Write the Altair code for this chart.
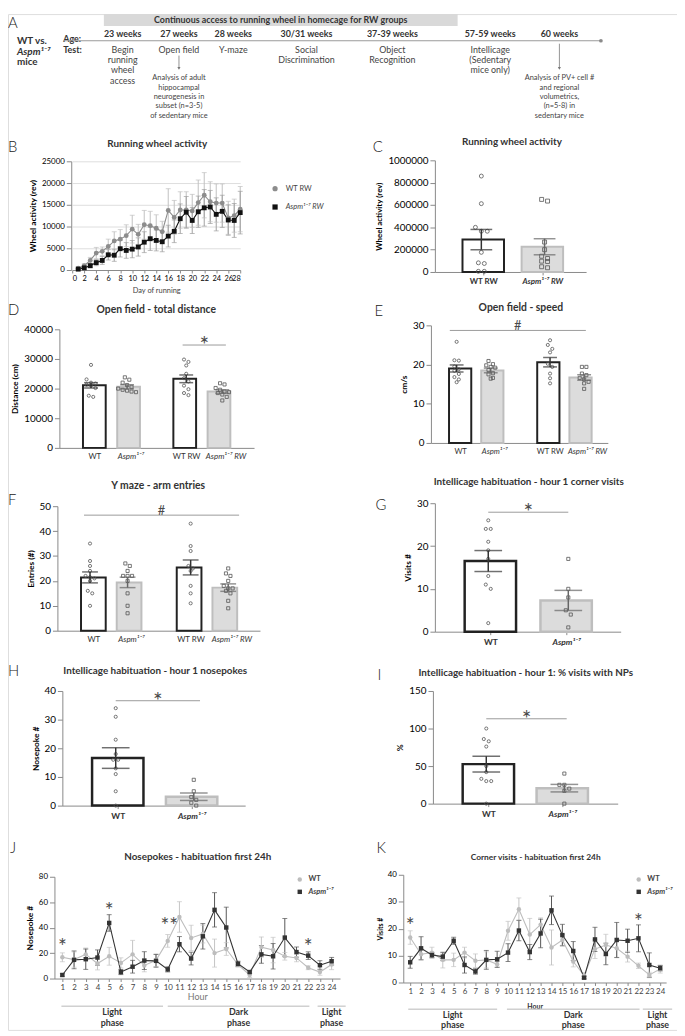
import altair as alt
import pandas as pd

FONT = "Lato"
OFF = 8            # page margin
W, H = 677, 1028   # drawing area


def px(v):
    return v - OFF

# ============================ DATA ============================
# Panel A (timeline)
A_WEEKS = [23, 27, 28, 30.5, 38, 58, 60]
A_AGES = ["23 weeks", "27 weeks", "28 weeks", "30/31 weeks", "37-39 weeks", "57-59 weeks", "60 weeks"]
A_TESTS = ["Begin\nrunning\nwheel\naccess", "Open field", "Y-maze", "Social\nDiscrimination",
           "Object\nRecognition", "Intellicage\n(Sedentary\nmice only)", ""]
A_NOTE_WEEKS = [27, 60]
A_NOTES = ["Analysis of adult\nhippocampal\nneurogenesis in\nsubset (n=3-5)\nof sedentary mice",
           "Analysis of PV+ cell #\nand regional\nvolumetrics,\n(n=5-8) in\nsedentary mice"]

GRP_RW = ["WT RW", "Aspm¹⁻⁷ RW"]
GRP = ["WT", "Aspm¹⁻⁷"]
CATS4 = ["WT", "Aspm¹⁻⁷", "WT RW", "Aspm¹⁻⁷ RW"]
KINDS4 = ["wt", "ko", "wt", "ko"]
KINDS2 = ["wt", "ko"]

# Panel B (running wheel per day)
B_DAYS = list(range(1, 29))
B_WT_MEAN = [400, 1000, 2200, 3900, 4300, 5400, 6700, 7100, 7900, 9400, 8200, 10400, 10200, 9600,
             8800, 13700, 12100, 13800, 13800, 13600, 15500, 17200, 15700, 15400, 15400, 12000, 12500, 14000]
B_WT_SEM = [300, 400, 700, 1300, 1000, 1700, 2100, 2200, 2500, 3200, 2300, 3300, 3300, 3100,
            2400, 5000, 3900, 4200, 4200, 3800, 5200, 5200, 4600, 4400, 4400, 3800, 3800, 5200]
B_KO_MEAN = [200, 500, 1000, 1700, 2200, 3500, 3400, 4900, 4500, 4800, 5300, 6400, 7200, 6800,
             6500, 7800, 8900, 11800, 13300, 11400, 13400, 14300, 14500, 12800, 13500, 11500, 11400, 13200]
B_KO_SEM = [100, 300, 500, 700, 900, 1200, 1400, 1900, 1800, 2000, 2100, 2400, 2700, 2400,
            2300, 2500, 2600, 3400, 3600, 3000, 3600, 4200, 3800, 3800, 3700, 3500, 3900, 4900]

# Panel C (total wheel activity)
C_CATS = ["WT RW", "Aspm¹⁻⁷ RW"]
C_MEAN = [290000, 226000]
C_SEM = [91000, 72000]
C_PTS = [[859000, 612000, 400000, 365000, 365000, 176000, 82000, 76000, 6000, 6000],
         [650000, 635000, 268000, 200000, 141000, 121000, 97000, 94000, 47000, 38000]]

# Panel D (open field distance)
D_MEAN = [21100, 20600, 23300, 19000]
D_SEM = [900, 700, 1300, 600]
D_PTS = [[28000, 23100, 22000, 21700, 21300, 21000, 20200, 17600, 17200],
         [23800, 23000, 22000, 21200, 20600, 20000, 19600, 19300, 19000, 18800],
         [29800, 29000, 27800, 25000, 23500, 22400, 21000, 19800, 18500, 17800],
         [21800, 21400, 20200, 19600, 19000, 18800, 18500, 18000, 17200, 16000]]
D_SIG = [("*", "WT RW", "Aspm¹⁻⁷ RW", 34700)]

# Panel E (open field speed)
E_MEAN = [19.0, 18.5, 20.6, 16.7]
E_SEM = [0.9, 0.6, 1.2, 0.7]
E_PTS = [[25.8, 21.1, 21.0, 19.5, 18.8, 18.4, 17.6, 16.8, 16.2, 15.5],
         [20.9, 20.1, 19.8, 19.4, 19.2, 18.6, 17.8, 17.5, 16.6, 16.4],
         [26.2, 25.0, 24.0, 23.1, 20.2, 19.4, 17.7, 16.5, 15.2],
         [19.4, 19.4, 17.7, 17.3, 16.6, 16.2, 15.6, 15.2, 13.8]]
E_SIG = [("#", "WT", "Aspm¹⁻⁷ RW", 28.7)]

# Panel F (Y maze entries)
F_MEAN = [21.4, 19.4, 25.4, 17.3]
F_SEM = [2.2, 2.1, 3.0, 1.5]
F_PTS = [[35, 28, 26, 24, 22, 21.5, 21, 20, 16, 15, 10],
         [27, 26, 24, 22, 22, 22, 20, 15, 10, 7],
         [43, 34, 32, 26, 25, 24, 18, 15, 11],
         [25, 23, 22, 20, 18, 17, 17, 16, 15, 12, 9]]
F_SIG = [("#", "WT", "Aspm¹⁻⁷ RW", 46.4)]

# Panel G (corner visits hour 1)
G_MEAN = [16.5, 7.3]
G_SEM = [2.45, 2.35]
G_PTS = [[26, 24, 24, 21, 19, 17, 13, 11, 10, 2], [17, 10, 8, 5, 4, 1]]
G_SIG = [("*", "WT", "Aspm¹⁻⁷", 27.9)]

# Panel H (nosepokes hour 1)
H_MEAN = [16.6, 3.1]
H_SEM = [3.6, 1.3]
H_PTS = [[34, 31, 23, 18, 16, 16, 13, 11, 5, 0], [9, 5, 3, 2, 1, 0]]
H_SIG = [("*", "WT", "Aspm¹⁻⁷", 36.6)]

# Panel I (% visits with NPs)
I_MEAN = [52.6, 20.6]
I_SEM = [10.5, 5.0]
I_PTS = [[100, 86, 83, 76, 50, 42, 33, 30, 30, 0], [40, 25, 25, 20, 17, 0]]
I_SIG = [("*", "WT", "Aspm¹⁻⁷", 113)]

# Panels J / K (24 h habituation)
HOURS = list(range(1, 25))
J_WT_MEAN = [16.7, 14.9, 19.0, 11.8, 17.5, 12.3, 19.0, 10.3, 14.4, 29.6, 48.4, 31.9, 35.0, 20.0,
             23.2, 11.0, 2.8, 24.7, 22.4, 17.5, 16.2, 8.5, 5.1, 11.0]
J_WT_SEM = [3.5, 6, 5, 5, 7, 4, 11, 5, 5, 5, 12, 10, 7, 11, 5, 2, 2, 8, 10, 3, 3, 1.5, 2.5, 4]
J_KO_MEAN = [2.8, 14.7, 15.2, 16.5, 43.7, 5.1, 9.3, 14.1, 13.9, 7.2, 27.0, 15.7, 33.2, 54.0,
             40.1, 11.6, 5.1, 19.0, 17.5, 32.2, 20.8, 18.0, 10.5, 13.6]
J_KO_SEM = [1, 7, 8, 6, 6.5, 2, 5, 7, 5, 2, 6, 5, 10, 13.5, 16, 2, 1, 7, 10, 15, 4, 3, 3.5, 3]
J_STAR_HOURS = [1, 5, 9.75, 10.5, 22]
J_STAR_Y = [28.7, 56.7, 45, 45, 28.7]

K_WT_MEAN = [16.7, 10.5, 11.1, 8.4, 8.4, 11.1, 8.1, 8.4, 6.8, 19.2, 27.2, 17.8, 21.5, 13.0,
             15.8, 7.8, 2.6, 12.4, 13.9, 12.7, 9.6, 6.2, 2.8, 5.0]
K_WT_SEM = [2.5, 2, 2, 3, 2.5, 2, 2.5, 3, 1, 3.5, 4.2, 6, 2.5, 6.5, 2, 2, 1, 3.5, 4, 3.5, 2, 1, 1, 1.5]
K_KO_MEAN = [7.5, 12.7, 10.2, 9.6, 15.5, 6.5, 4.1, 8.4, 8.6, 11.1, 19.3, 11.3, 18.2, 26.8,
             17.6, 11.7, 1.8, 16.0, 10.6, 15.8, 15.5, 16.4, 6.5, 5.3]
K_KO_SEM = [2.2, 4.3, 1, 1.5, 1.3, 3, 1, 3.5, 3, 3.3, 3.8, 2.8, 5.3, 5.3, 4, 3.5, 0.5, 4.5, 4,
            6.5, 4.3, 5, 4.5, 1]
K_STAR_HOURS = [1, 22]
K_STAR_Y = [22.8, 24.2]

PHASE_NAMES = ["Light\nphase", "Dark\nphase", "Light\nphase"]

# ============================ LAYOUT ============================
A_COL_PX = [124, 181, 236, 310, 397, 496, 566]
SH = 3
LAB_SHIFT4 = [0, 2, 1.5, 7]   # px shift of the category labels under 4-bar panels
STAR_FS_BAR = 23
STAR_FS_HOUR = 21

layers = []


def txt(s, x, y, size=9.0, weight="normal", style="normal", align="center", baseline="middle",
        color="#333333", lh=None):
    kw = dict(align=align, baseline=baseline, fontSize=size, fontWeight=weight, fontStyle=style, font=FONT)
    if lh is not None:
        kw["lineHeight"] = lh
    if "\n" in s:
        kw["lineBreak"] = "\n"
    return alt.Chart(alt.Data(values=[{"t": s}])).mark_text(**kw).encode(
        text="t:N", x=alt.value(px(x)), y=alt.value(px(y)), color=alt.value(color))


def blank():
    return alt.Chart(alt.Data(values=[{}]))


# ---------------- Panel A ----------------
a_x = alt.Scale(domain=A_WEEKS, range=[px(v) for v in A_COL_PX], nice=False, zero=False)
a_enc = alt.X("week:Q", scale=a_x, axis=None)
a_df = pd.DataFrame({"week": A_WEEKS, "age": A_AGES, "test": A_TESTS})
a_notes = pd.DataFrame({"week": A_NOTE_WEEKS, "note": A_NOTES})

layers.append(blank().mark_rect(color="#d9d9d9").encode(
    x=alt.value(px(105)), x2=alt.value(px(463)), y=alt.value(0), y2=alt.value(12)))
layers.append(txt("Continuous access to running wheel in homecage for RW groups", 284, 14, 9, "bold"))
layers.append(txt("A", 8, 17, 15, 300, align="left", color="#222222"))
layers.append(txt("WT vs.", 17, 32 + SH, 10, "bold", align="left"))
layers.append(txt("Aspm¹⁻⁷", 17, 43 + SH, 10, "bold", "italic", align="left"))
layers.append(txt("mice", 17, 54 + SH, 10, "bold", align="left"))
layers.append(txt("Age:", 64, 30 + SH, 9, "bold", align="left"))
layers.append(txt("Test:", 64, 41 + SH, 9, "bold", align="left"))
layers.append(blank().mark_rule(color="#9a9a9a", strokeWidth=1.2).encode(
    x=alt.value(px(64)), x2=alt.value(px(608)), y=alt.value(px(32 + SH))))
layers.append(blank().mark_point(filled=True, size=14, opacity=1).encode(
    x=alt.value(px(608)), y=alt.value(px(32 + SH)), color=alt.value("#8a8a8a")))
layers.append(alt.Chart(a_df).mark_text(font=FONT, fontSize=9, fontWeight="bold").encode(
    x=a_enc, y=alt.value(px(25 + SH)), text="age:N", color=alt.value("#333333")))
layers.append(alt.Chart(a_df).mark_text(font=FONT, fontSize=9, baseline="top",
                                        lineBreak="\n", lineHeight=10.5).encode(
    x=a_enc, y=alt.value(px(37 + SH)), text="test:N", color=alt.value("#444444")))
layers.append(alt.Chart(a_notes).mark_text(font=FONT, fontSize=7.5, baseline="top",
                                           lineBreak="\n", lineHeight=9.5).encode(
    x=a_enc, y=alt.value(px(66 + SH)), text="note:N", color=alt.value("#444444")))
for wk, y0 in [(27, 47), (60, 35)]:
    d = pd.DataFrame({"week": [wk]})
    layers.append(alt.Chart(d).mark_rule(strokeWidth=0.8).encode(
        x=a_enc, y=alt.value(px(y0 + SH)), y2=alt.value(px(60 + SH)), color=alt.value("#777777")))
    layers.append(alt.Chart(d).mark_point(shape="triangle-down", filled=True, size=10, opacity=1).encode(
        x=a_enc, y=alt.value(px(60 + SH)), color=alt.value("#777777")))

# ---------------- helpers ----------------
def legend(x, y, rowpad, weight="normal", size=7.5, symsize=24, offset=5):
    return alt.Legend(orient="none", legendX=px(x), legendY=px(y), title=None, labelFontSize=size,
                      labelColor="#444444", labelFontWeight=weight, symbolSize=symsize,
                      rowPadding=rowpad, padding=0, labelOffset=offset, symbolStrokeWidth=0,
                      labelFontStyle={"expr": "indexof(datum.label, 'Aspm') >= 0 ? 'italic' : 'normal'"})


def swarm(vals, thr, sp):
    order = sorted(range(len(vals)), key=lambda i: -vals[i])
    offs = [0.0] * len(vals)
    cluster = []

    def flush(cl):
        k = len(cl)
        for j, i in enumerate(cl):
            offs[i] = (j - (k - 1) / 2) * sp

    for i in order:
        if cluster and abs(vals[cluster[0]] - vals[i]) > thr:
            flush(cluster)
            cluster = []
        cluster.append(i)
    flush(cluster)
    return offs


def bar_panel(L, cats, kinds, means, sems, pts, sigs, ylab, yvals, xlab_weight="normal",
              xlab_size=8.5, ticksize=0, ylab_size=8.5, lab_shift=None):
    step = L["step"]
    slots = L["slots"]
    slot_of = dict(zip(cats, slots))
    dom = [(L["ax"] - L["c0"]) / step, (L["x1"] - L["c0"]) / step]
    xs = alt.Scale(domain=dom, range=[px(L["ax"]), px(L["x1"])], nice=False, zero=False)
    ys = alt.Scale(domain=[0, L["ymax"]], range=[px(L["ay"]), px(L["ytop"])], nice=False, zero=False)
    bars = pd.DataFrame({"slot": slots, "cat": cats, "kind": kinds, "mean": means,
                         "lo": [m - s for m, s in zip(means, sems)],
                         "hi": [m + s for m, s in zip(means, sems)]})
    if lab_shift is None:
        lab_pos = list(slots)
    else:
        lab_pos = [round(s + d / step, 4) for s, d in zip(slots, lab_shift)]
    lab_expr = "''"
    for s, c in reversed(list(zip(lab_pos, cats))):
        lab_expr = f"abs(datum.value - {s}) < 0.001 ? '{c}' : ({lab_expr})"
    ko_pos = [s for s, k in zip(lab_pos, kinds) if k == "ko"]
    sty_expr = "(" + " || ".join(f"abs(datum.value - {s}) < 0.001" for s in ko_pos) + ") ? 'italic' : 'normal'"
    xaxis_kw = dict(orient="bottom", offset=px(L["ay"]) - H, values=lab_pos, labelExpr=lab_expr, title=None,
                    labelFontSize=xlab_size, labelFontWeight=xlab_weight, labelOverlap=False,
                    labelFontStyle={"expr": sty_expr}, labelColor="#333333", labelPadding=3)
    if ticksize > 0:
        xaxis_kw["tickSize"] = ticksize
    else:
        xaxis_kw["ticks"] = False
        xaxis_kw["labelPadding"] = 5
    xaxis = alt.Axis(**xaxis_kw)
    yaxis = alt.Axis(orient="left", offset=-px(L["ax"]), values=yvals, format="d", title=ylab,
                     titleFontSize=ylab_size, labelOverlap=False)
    out = []
    out.append(alt.Chart(bars).mark_bar(size=L["bw"], strokeWidth=L["sw"], orient="vertical").encode(
        x=alt.X("slot:Q", scale=xs, axis=xaxis),
        y=alt.Y("mean:Q", scale=ys, axis=yaxis),
        fill=alt.Fill("kind:N", scale=alt.Scale(domain=["wt", "ko"], range=["#ffffff", "#dcdcdc"]), legend=None),
        stroke=alt.Stroke("kind:N", scale=alt.Scale(domain=["wt", "ko"], range=["#222222", "#bebebe"]),
                          legend=None)))
    prow = []
    for slot, kind, vals in zip(slots, kinds, pts):
        offs = swarm(vals, L["ymax"] * 0.035, L["jit"] / step)
        for v, o in zip(vals, offs):
            prow.append({"x": slot + o, "val": v, "kind": kind})
    pdf = pd.DataFrame(prow)
    out.append(alt.Chart(pdf).mark_point(filled=False, size=L["ps"], strokeWidth=0.8, opacity=1).encode(
        x=alt.X("x:Q", scale=xs, axis=None), y=alt.Y("val:Q", scale=ys, axis=None),
        color=alt.value("#555555"),
        shape=alt.Shape("kind:N", scale=alt.Scale(domain=["wt", "ko"], range=["circle", "square"]), legend=None)))
    ecol = alt.Color("kind:N", scale=alt.Scale(domain=["wt", "ko"], range=["#333333", "#666666"]), legend=None)
    out.append(alt.Chart(bars).mark_rule(strokeWidth=1.5).encode(
        x=alt.X("slot:Q", scale=xs, axis=None), y=alt.Y("lo:Q", scale=ys, axis=None), y2="hi:Q", color=ecol))
    for f in ["lo", "hi"]:
        out.append(alt.Chart(bars).mark_tick(orient="horizontal", size=L["cap"], thickness=1.5).encode(
            x=alt.X("slot:Q", scale=xs, axis=None), y=alt.Y(f + ":Q", scale=ys, axis=None), color=ecol))
    for sym, ca, cb, yv in sigs:
        a = slot_of[ca] - L.get("sig_ext_l", 0)
        b = slot_of[cb] + L.get("sig_ext_r", 0)
        sd = pd.DataFrame({"a": [a], "b": [b], "m": [(a + b) / 2], "y": [yv], "t": [sym]})
        out.append(alt.Chart(sd).mark_rule(strokeWidth=1).encode(
            x=alt.X("a:Q", scale=xs, axis=None), x2="b:Q", y=alt.Y("y:Q", scale=ys, axis=None),
            color=alt.value("#9a9a9a")))
        fs = STAR_FS_BAR if sym == "*" else 13
        dy = 0.57 * fs - 5 if sym == "*" else 0.35 * fs - 5
        out.append(alt.Chart(sd).mark_text(font=FONT, fontSize=fs, baseline="alphabetic", dy=dy).encode(
            x=alt.X("m:Q", scale=xs, axis=None), y=alt.Y("y:Q", scale=ys, axis=None), text="t:N",
            color=alt.value("#4a4a4a")))
    return out


def hour_panel(L, wt_m, wt_s, ko_m, ko_s, star_h, star_y, ylab, yvals, ylab_size, leg, xtitle_kw,
               phase_rng, phase_line_y, phase_text_y, phase_lh):
    step = (L["h24"] - L["h1"]) / 23
    dom = [1 + (L["ax"] - L["h1"]) / step, 1 + (L["x1"] - L["h1"]) / step]
    xs = alt.Scale(domain=dom, range=[px(L["ax"]), px(L["x1"])], nice=False, zero=False)
    ys = alt.Scale(domain=[0, L["ymax"]], range=[px(L["ay"]), px(L["ytop"])], nice=False, zero=False)
    rows = []
    for g, ms, ss in [(GRP[0], wt_m, wt_s), (GRP[1], ko_m, ko_s)]:
        for h, m, s in zip(HOURS, ms, ss):
            rows.append({"hour": h, "group": g, "mean": m, "lo": m - s, "hi": m + s})
    df = pd.DataFrame(rows)
    xaxis = alt.Axis(orient="bottom", offset=px(L["ay"]) - H, values=HOURS, labelFontSize=8,
                     labelColor="#444444", tickSize=3, labelOverlap=False, **xtitle_kw)
    yaxis = alt.Axis(orient="left", offset=-px(L["ax"]), values=yvals, format="d", title=ylab,
                     titleFontSize=ylab_size, labelFontSize=8, labelOverlap=False)
    ecol = alt.Color("group:N", scale=alt.Scale(domain=GRP, range=["#c4c4c4", "#555555"]), legend=None)
    out = []
    out.append(alt.Chart(df).mark_rule(strokeWidth=1).encode(
        x=alt.X("hour:Q", scale=xs, axis=xaxis), y=alt.Y("lo:Q", scale=ys, axis=yaxis), y2="hi:Q", color=ecol))
    for f in ["lo", "hi"]:
        out.append(alt.Chart(df).mark_tick(orient="horizontal", size=5, thickness=1).encode(
            x=alt.X("hour:Q", scale=xs, axis=None), y=alt.Y(f + ":Q", scale=ys, axis=None), color=ecol))
    lcol = alt.Color("group:N", scale=alt.Scale(domain=GRP, range=["#bdbdbd", "#333333"]), legend=None)
    out.append(alt.Chart(df).mark_line(strokeWidth=1.1).encode(
        x=alt.X("hour:Q", scale=xs, axis=None), y=alt.Y("mean:Q", scale=ys, axis=None), color=lcol))
    out.append(alt.Chart(df).mark_point(filled=True, size=20, opacity=1).encode(
        x=alt.X("hour:Q", scale=xs, axis=None), y=alt.Y("mean:Q", scale=ys, axis=None),
        color=alt.Color("group:N", scale=alt.Scale(domain=GRP, range=["#bdbdbd", "#333333"]), legend=leg),
        shape=alt.Shape("group:N", scale=alt.Scale(domain=GRP, range=["circle", "square"]), legend=leg)))
    sd = pd.DataFrame({"h": star_h, "y": star_y, "t": ["*"] * len(star_h)})
    out.append(alt.Chart(sd).mark_text(font=FONT, fontSize=STAR_FS_HOUR, baseline="alphabetic",
                                       dy=0.57 * STAR_FS_HOUR).encode(
        x=alt.X("h:Q", scale=xs, axis=None), y=alt.Y("y:Q", scale=ys, axis=None), text="t:N",
        color=alt.value("#4a4a4a")))
    ph = pd.DataFrame({"a": [r[0] for r in phase_rng], "b": [r[1] for r in phase_rng],
                       "m": [(r[0] + r[1]) / 2 for r in phase_rng], "t": PHASE_NAMES})
    out.append(alt.Chart(ph).mark_rule(strokeWidth=1.5).encode(
        x=alt.X("a:Q", scale=xs, axis=None), x2="b:Q", y=alt.value(px(phase_line_y)),
        color=alt.value("#d0d0d0")))
    out.append(alt.Chart(ph).mark_text(font=FONT, fontSize=9, fontWeight="bold",
                                       baseline="top", lineBreak="\n", lineHeight=phase_lh).encode(
        x=alt.X("m:Q", scale=xs, axis=None), y=alt.value(px(phase_text_y)), text="t:N",
        color=alt.value("#333333")))
    return out

# ---------------- Panel B ----------------
b_x = alt.Scale(domain=[0, 28], range=[px(73), px(243)], nice=False, zero=False)
b_y = alt.Scale(domain=[0, 25000], range=[px(267), px(157)], nice=False, zero=False)
b_rows = []
for g, ms, ss in [(GRP_RW[0], B_WT_MEAN, B_WT_SEM), (GRP_RW[1], B_KO_MEAN, B_KO_SEM)]:
    for d, m, s in zip(B_DAYS, ms, ss):
        b_rows.append({"day": d, "group": g, "mean": m, "lo": m - s, "hi": m + s})
b_df = pd.DataFrame(b_rows)
b_ecol = alt.Color("group:N", scale=alt.Scale(domain=GRP_RW, range=["#c0c0c0", "#a0a0a0"]), legend=None)
layers.append(alt.Chart(b_df).mark_rule(strokeWidth=1).encode(
    x=alt.X("day:Q", scale=b_x, axis=alt.Axis(orient="bottom", offset=px(267) - H, values=list(range(0, 29, 2)),
                                             title="Day of running", titleFontSize=7.5, titleFontWeight="normal",
                                             titleColor="#444444", labelFontSize=7.5, tickSize=3, titlePadding=4,
                                             labelOverlap=False)),
    y=alt.Y("lo:Q", scale=b_y, axis=alt.Axis(orient="left", offset=-px(72), values=list(range(0, 25001, 5000)),
                                            format="d", title="Wheel activity (rev)", titleFontSize=8.5,
                                            labelFontSize=8, labelOverlap=False)),
    y2="hi:Q", color=b_ecol))
for f in ["lo", "hi"]:
    layers.append(alt.Chart(b_df).mark_tick(orient="horizontal", size=5, thickness=1).encode(
        x=alt.X("day:Q", scale=b_x, axis=None), y=alt.Y(f + ":Q", scale=b_y, axis=None), color=b_ecol))
layers.append(alt.Chart(b_df).mark_line(strokeWidth=1.1).encode(
    x=alt.X("day:Q", scale=b_x, axis=None), y=alt.Y("mean:Q", scale=b_y, axis=None),
    color=alt.Color("group:N", scale=alt.Scale(domain=GRP_RW, range=["#8c8c8c", "#111111"]), legend=None)))
legB = legend(274.5, 181, 9.5, offset=7, symsize=28)
layers.append(alt.Chart(b_df).mark_point(filled=True, size=24, opacity=1).encode(
    x=alt.X("day:Q", scale=b_x, axis=None), y=alt.Y("mean:Q", scale=b_y, axis=None),
    color=alt.Color("group:N", scale=alt.Scale(domain=GRP_RW, range=["#8c8c8c", "#111111"]), legend=legB),
    shape=alt.Shape("group:N", scale=alt.Scale(domain=GRP_RW, range=["circle", "square"]), legend=legB)))

# ---------------- Bar panels ----------------
L_C = dict(ax=440, ay=269, x1=593, c0=487, step=64, slots=[0, 1], bw=42, sw=2, ytop=156, ymax=1000000,
           cap=22, jit=6, ps=16)
L_D = dict(ax=60, ay=447, x1=257, c0=92, step=36.5, slots=[0, 1, 2.64, 3.64], bw=23, sw=2, ytop=327,
           ymax=40000, cap=14, jit=4.5, ps=10, sig_ext_l=0.1, sig_ext_r=0.1)
L_E = dict(ax=436, ay=442, x1=615, c0=462, step=34.5, slots=[0, 1, 2.74, 3.74], bw=22.5, sw=2, ytop=323,
           ymax=30, cap=14, jit=4.5, ps=10, sig_ext_l=0.2, sig_ext_r=0.05)
L_F = dict(ax=58, ay=632, x1=263, c0=91, step=38, slots=[0, 1, 2.68, 3.68], bw=25, sw=2, ytop=506,
           ymax=50, cap=16, jit=4.5, ps=10, sig_ext_l=0.16, sig_ext_r=0.29)
L_G = dict(ax=440, ay=633, x1=628, c0=494, step=81, slots=[0, 1], bw=52, sw=2.5, ytop=503, ymax=30,
           cap=28, jit=5, ps=10)
L_H = dict(ax=63, ay=809, x1=248, c0=117, step=79, slots=[0, 1], bw=52, sw=2.5, ytop=693, ymax=40,
           cap=28, jit=5, ps=10, sig_ext_r=0.08)
L_I = dict(ax=438, ay=807, x1=625, c0=492, step=79, slots=[0, 1], bw=52, sw=2.5, ytop=693, ymax=150,
           cap=28, jit=5, ps=10, sig_ext_r=0.03)

layers += bar_panel(L_C, C_CATS, KINDS2, C_MEAN, C_SEM, C_PTS, [], "Wheel activity (rev)",
                    list(range(0, 1000001, 200000)), xlab_weight="bold", xlab_size=8, ticksize=3, ylab_size=8)
layers += bar_panel(L_D, CATS4, KINDS4, D_MEAN, D_SEM, D_PTS, D_SIG, "Distance (cm)",
                    list(range(0, 40001, 10000)), xlab_size=8, lab_shift=LAB_SHIFT4)
layers += bar_panel(L_E, CATS4, KINDS4, E_MEAN, E_SEM, E_PTS, E_SIG, "cm/s", [0, 10, 20, 30],
                    xlab_size=7.8, lab_shift=LAB_SHIFT4)
layers += bar_panel(L_F, CATS4, KINDS4, F_MEAN, F_SEM, F_PTS, F_SIG, "Entries (#)", [0, 10, 20, 30, 40, 50],
                    xlab_size=8, lab_shift=LAB_SHIFT4)
layers += bar_panel(L_G, GRP, KINDS2, G_MEAN, G_SEM, G_PTS, G_SIG, "Visits #", [0, 10, 20, 30],
                    xlab_weight="bold", ticksize=3)
layers += bar_panel(L_H, GRP, KINDS2, H_MEAN, H_SEM, H_PTS, H_SIG, "Nosepoke #", [0, 10, 20, 30, 40],
                    xlab_weight="bold", ticksize=3)
layers += bar_panel(L_I, GRP, KINDS2, I_MEAN, I_SEM, I_PTS, I_SIG, "%", [0, 50, 100, 150],
                    xlab_weight="bold", ticksize=3)

# ---------------- Panels J, K ----------------
L_J = dict(ax=55, x1=344, h1=63, h24=335.5, ay=984, ytop=881, ymax=80)
L_K = dict(ax=408, x1=674, h1=415, h24=668, ay=988, ytop=879, ymax=40)
layers += hour_panel(L_J, J_WT_MEAN, J_WT_SEM, J_KO_MEAN, J_KO_SEM, J_STAR_HOURS, J_STAR_Y,
                     "Nosepoke #", [0, 20, 40, 60, 80], 8.5, legend(299.5, 880, 3.5, weight="bold", symsize=20, offset=5),
                     dict(title="Hour", titleFontSize=9, titleFontWeight="normal", titleColor="#777777",
                          titlePadding=1),
                     [(0.92, 9.6), (10.0, 22.1), (22.8, 25.2)], 1012, 1014, 11)
layers += hour_panel(L_K, K_WT_MEAN, K_WT_SEM, K_KO_MEAN, K_KO_SEM, K_STAR_HOURS, K_STAR_Y,
                     "Visits #", [0, 10, 20, 30, 40], 7, legend(642.5, 880, 3.5, weight="bold", symsize=20, offset=5),
                     dict(title="Hour", titleFontSize=7, titleFontWeight="bold", titleColor="#333333",
                          titlePadding=7),
                     [(0.82, 9.0), (9.9, 22.1), (22.4, 25.1)], 1015, 1017, 10)

# ---------------- Titles & panel letters ----------------
TITLES = [("Running wheel activity", 159, 140, 10), ("Running wheel activity", 518, 137, 10),
          ("Open field - total distance", 158, 308, 10.5), ("Open field - speed", 527, 305, 10.5),
          ("Y maze - arm entries", 160, 486, 10.5),
          ("Intellicage habituation - hour 1 corner visits", 535, 482, 10),
          ("Intellicage habituation - hour 1 nosepokes", 157, 673, 10),
          ("Intellicage habituation - hour 1: % visits with NPs", 532, 675, 10),
          ("Nosepokes - habituation first 24h", 200, 861, 10),
          ("Corner visits - habituation first 24h", 542, 861, 8.5)]
for t, x, y, s in TITLES:
    layers.append(txt(t, x, y, s, "bold", color="#333333"))
LETTERS = [("B", 8, 143), ("C", 377, 143), ("D", 8, 308), ("E", 379, 309), ("F", 8, 500), ("G", 380, 505),
           ("H", 8, 673), ("I", 382, 677), ("J", 10, 852), ("K", 381, 852)]
for t, x, y in LETTERS:
    layers.append(txt(t, x, y, 15, 300, align="left", color="#222222"))

chart = alt.layer(*layers).properties(
    width=W, height=H, autosize=alt.AutoSizeParams(type="none"), padding=0
).resolve_scale(
    x="independent", y="independent", color="independent", fill="independent", stroke="independent",
    shape="independent"
).resolve_axis(x="independent", y="independent").resolve_legend(
    color="independent", shape="independent"
).configure_view(stroke=None).configure_axis(
    grid=False, labelFlush=False, labelOverlap=False, domainColor="#8c8c8c", tickColor="#8c8c8c",
    labelColor="#444444", titleColor="#333333", tickSize=3, labelPadding=2, titlePadding=4,
    labelFontSize=8.5, titleFontSize=8.5, titleFontWeight="bold", labelFont=FONT, titleFont=FONT
).configure_legend(labelFont=FONT).configure(font=FONT)

chart.save("out.html", embed_options={"renderer": "svg", "actions": False})
